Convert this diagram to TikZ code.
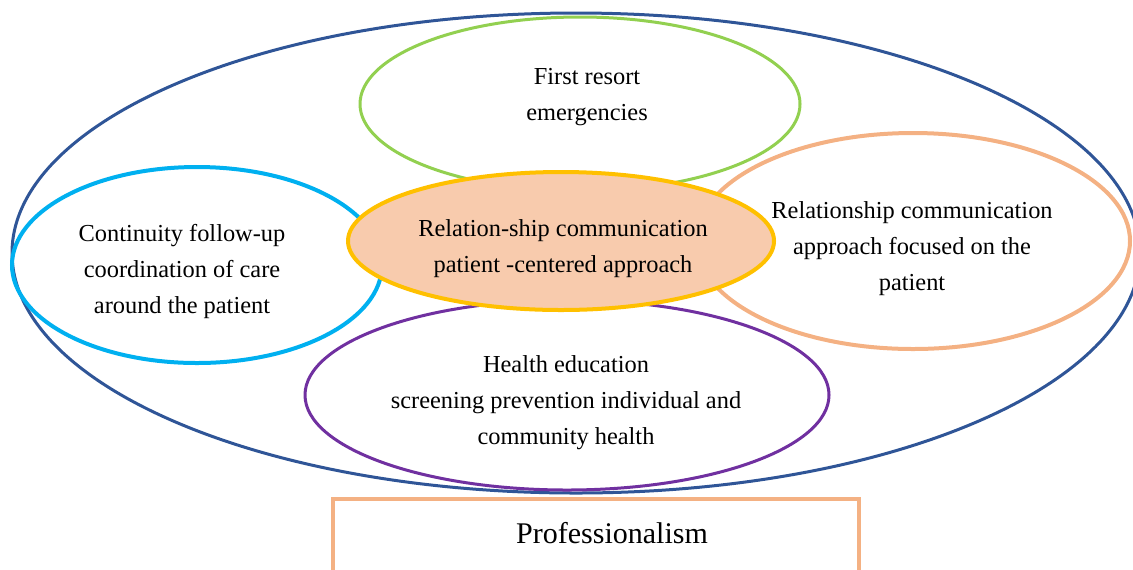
\documentclass[tikz,border=0pt]{standalone}
\usepackage{fontspec}
\setmainfont{Liberation Serif}
\usepackage{tikz}
\usetikzlibrary{shapes}
\definecolor{outerblue}{HTML}{2F5597}
\definecolor{resortgreen}{HTML}{92D050}
\definecolor{carecyan}{HTML}{00B0F0}
\definecolor{focusorange}{HTML}{F4B183}
\definecolor{healthpurple}{HTML}{7030A0}
\definecolor{coregold}{HTML}{FFC000}
\definecolor{corefill}{HTML}{F8CBAD}
\tikzset{%
  every zone/.style={
    ellipse,
    draw,
    inner sep=0pt
  },
  zone text/.style={
    align=center,
    font=\fontsize{12.2}{18}\selectfont
  },
}

\begin{document}
\begin{tikzpicture}[x=0.5pt,y=-0.5pt]
  \useasboundingbox (0,0) rectangle (1133,569);

  \node (o) at (576,253) [every zone,draw=outerblue,line width=1.5pt,
    minimum width=564pt,minimum height=240pt] {};
  \node (a) at (580,104) [every zone,draw=resortgreen,line width=1.5pt,
    minimum width=220pt,minimum height=87pt] {};
  \node (b) at (197,265) [every zone,draw=carecyan,line width=2pt,
    minimum width=185pt,minimum height=98pt] {};
  \node (d) at (913,241) [every zone,draw=focusorange,line width=2pt,
    minimum width=217pt,minimum height=108pt] {};
  \node (e) at (567,395) [every zone,draw=healthpurple,line width=1.5pt,
    minimum width=262pt,minimum height=95pt] {};
  \node (c) at (561,241) [every zone,draw=coregold,fill=corefill,line width=2pt,
    minimum width=213pt,minimum height=69pt] {};

  \node (ta) at (587,97) [zone text] {First resort\\emergencies};
  \node (tb) at (182,271) [zone text] {Continuity follow-up\\coordination of care\\around the patient};
  \node (tc) at (563,249) [zone text] {Relation-ship communication\\patient -centered approach};
  \node (td) at (912,249) [zone text] {Relationship communication\\approach focused on the\\patient};
  \node (te) at (566,403) [zone text] {Health education\\screening prevention individual and\\community health};

  % base of the whole model
  \draw [focusorange,line width=2pt] (333,600) |- (859,499) -- (859,600);
  \node (p) at (612,533) [font=\fontsize{15}{18}\selectfont] {Professionalism};
\end{tikzpicture}
\end{document}
